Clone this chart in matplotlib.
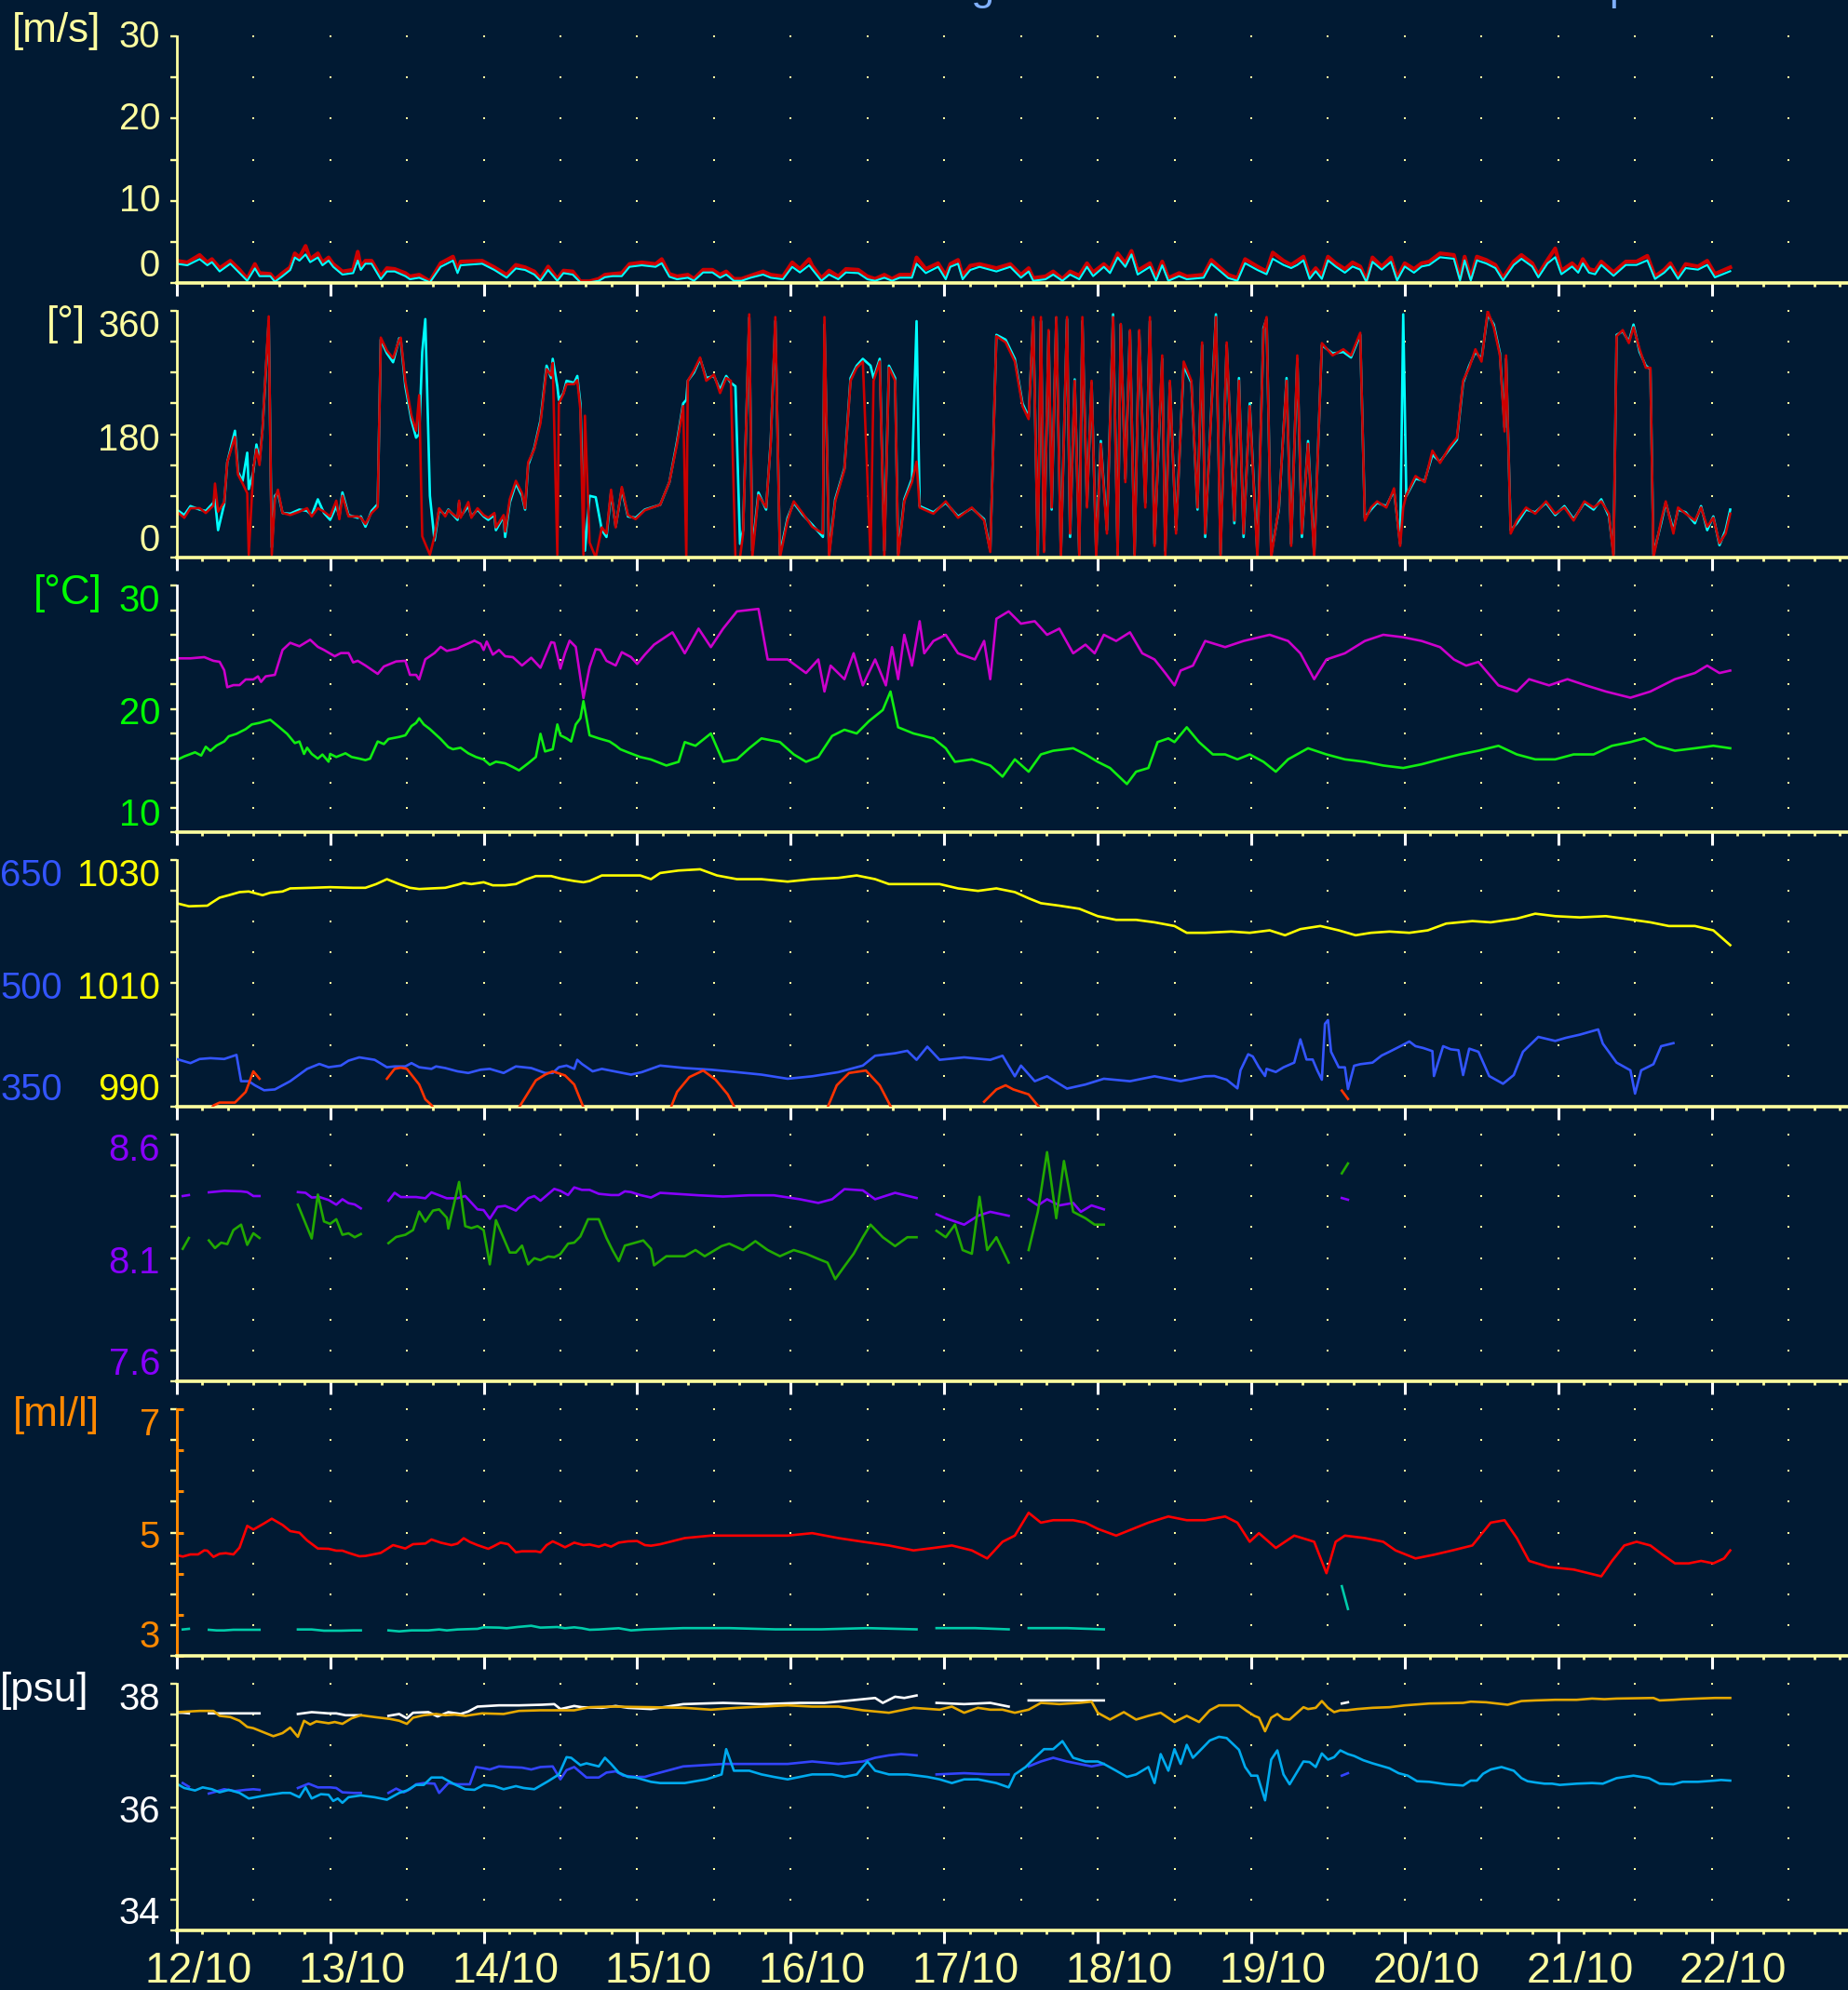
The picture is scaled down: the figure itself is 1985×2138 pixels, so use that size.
import numpy as np
import matplotlib
matplotlib.use("Agg")
import matplotlib.pyplot as plt
from matplotlib.ticker import NullLocator
from matplotlib.transforms import ScaledTranslation

nan = float("nan")

# ---------------------------------------------------------------- data
# time is expressed in days since 12/10 00:00
day_labels = ["12/10", "13/10", "14/10", "15/10", "16/10", "17/10",
              "18/10", "19/10", "20/10", "21/10", "22/10"]

title_text = "Monitoring Station \u2014 Meteo & Sea Surface parameters"

# wind speed [m/s] and gust
wind_t = [0.00, 0.07, 0.15, 0.20, 0.23, 0.28, 0.35, 0.41, 0.46, 0.51,
          0.54, 0.61, 0.64, 0.69, 0.74, 0.77, 0.80, 0.84, 0.87, 0.92,
          0.95, 0.99, 1.02, 1.08, 1.15, 1.18, 1.20, 1.23, 1.27, 1.33,
          1.37, 1.42, 1.49, 1.52, 1.58, 1.65, 1.72, 1.80, 1.83, 1.85,
          1.99, 2.07, 2.15, 2.21, 2.27, 2.33, 2.37, 2.42, 2.48, 2.52,
          2.58, 2.63, 2.69, 2.75, 2.79, 2.84, 2.90, 2.95, 3.03, 3.12,
          3.16, 3.21, 3.26, 3.33, 3.37, 3.43, 3.49, 3.54, 3.58, 3.63,
          3.68, 3.74, 3.82, 3.87, 3.95, 4.01, 4.06, 4.12, 4.14, 4.20,
          4.25, 4.31, 4.36, 4.44, 4.50, 4.55, 4.61, 4.66, 4.71, 4.79,
          4.82, 4.88, 4.96, 5.01, 5.04, 5.09, 5.12, 5.17, 5.23, 5.34,
          5.43, 5.50, 5.55, 5.58, 5.66, 5.71, 5.77, 5.82, 5.88, 5.93,
          5.97, 6.04, 6.08, 6.13, 6.18, 6.22, 6.26, 6.34, 6.38, 6.42,
          6.46, 6.53, 6.58, 6.69, 6.74, 6.80, 6.85, 6.91, 6.96, 7.04,
          7.10, 7.14, 7.21, 7.26, 7.30, 7.34, 7.38, 7.42, 7.46, 7.50,
          7.55, 7.61, 7.66, 7.71, 7.75, 7.79, 7.85, 7.91, 7.95, 8.00,
          8.06, 8.11, 8.16, 8.23, 8.32, 8.36, 8.39, 8.43, 8.47, 8.53,
          8.59, 8.64, 8.71, 8.76, 8.83, 8.87, 8.93, 8.98, 9.02, 9.09,
          9.13, 9.16, 9.20, 9.24, 9.28, 9.36, 9.44, 9.51, 9.58, 9.63,
          9.69, 9.73, 9.78, 9.83, 9.91, 9.97, 10.02, 10.07, 10.12]
wind_speed = [2.34, 2.15, 2.90, 2.15, 2.53, 1.40, 2.34, 1.20, 0.26, 1.77,
              0.83, 0.83, 0.15, 0.83, 1.58, 3.10, 2.72, 3.47, 2.53, 3.10,
              2.15, 2.72, 1.96, 1.02, 1.20, 2.72, 1.58, 2.34, 2.34, 0.45,
              1.40, 1.40, 0.83, 0.45, 0.64, 0.08, 1.96, 2.72, 1.20, 2.15,
              2.34, 1.58, 0.64, 1.77, 1.58, 1.02, 0.26, 1.58, 0.26, 1.20,
              1.02, 0.08, 0.08, 0.26, 0.70, 0.83, 0.83, 1.96, 2.15, 1.96,
              2.40, 0.75, 0.45, 0.64, 0.26, 1.28, 1.28, 0.64, 1.02, 0.26,
              0.26, 0.64, 1.02, 0.64, 0.45, 1.96, 1.28, 2.15, 1.66, 0.26,
              1.02, 0.45, 1.28, 1.20, 0.45, 0.26, 0.64, 0.26, 0.64, 0.64,
              2.34, 1.20, 1.96, 0.45, 1.96, 2.34, 0.45, 1.58, 1.96, 1.40,
              1.96, 0.64, 1.40, 0.26, 0.45, 1.02, 0.26, 1.02, 0.45, 1.96,
              0.83, 1.96, 1.20, 3.10, 1.96, 3.47, 1.02, 1.96, 0.26, 2.15,
              0.26, 0.83, 0.45, 0.64, 2.34, 1.40, 0.60, 0.26, 2.40, 1.58,
              1.06, 2.94, 2.19, 1.81, 2.19, 2.75, 0.49, 1.43, 0.49, 2.75,
              2.00, 1.25, 2.00, 1.62, 0.11, 2.57, 1.62, 2.57, 0.30, 2.00,
              1.25, 2.00, 2.19, 3.13, 2.94, 0.30, 2.75, 0.30, 2.75, 2.38,
              1.81, 0.30, 2.19, 2.94, 2.00, 0.68, 2.38, 3.13, 1.06, 2.00,
              1.25, 2.38, 1.25, 1.06, 2.19, 0.87, 2.19, 2.19, 2.75, 0.49,
              1.25, 2.00, 0.49, 1.81, 1.62, 2.19, 0.68, 1.06, 1.43]
wind_gust = [2.7, 2.5, 3.4, 2.5, 2.9, 1.8, 2.7, 1.6, 0.5, 2.3,
             1.2, 1.1, 0.4, 1.2, 1.9, 3.6, 3.1, 4.5, 2.9, 3.6,
             2.5, 3.1, 2.3, 1.4, 1.6, 3.8, 1.9, 2.7, 2.7, 0.8,
             1.8, 1.7, 1.2, 0.8, 1.0, 0.2, 2.4, 3.2, 1.6, 2.6,
             2.7, 1.9, 1.0, 2.2, 1.9, 1.4, 0.5, 2.0, 0.5, 1.5,
             1.4, 0.2, 0.2, 0.5, 1.0, 1.1, 1.2, 2.3, 2.5, 2.3,
             2.9, 1.1, 0.8, 1.0, 0.5, 1.6, 1.6, 1.0, 1.4, 0.5,
             0.5, 0.9, 1.4, 1.0, 0.8, 2.5, 1.7, 2.9, 2.1, 0.6,
             1.5, 0.8, 1.7, 1.6, 0.8, 0.5, 1.0, 0.5, 1.0, 1.0,
             3.1, 1.7, 2.4, 0.9, 2.3, 2.8, 0.9, 2.1, 2.3, 1.8,
             2.3, 1.0, 1.8, 0.6, 0.8, 1.4, 0.5, 1.4, 0.9, 2.4,
             1.3, 2.3, 1.6, 3.6, 2.4, 3.9, 1.5, 2.4, 0.6, 2.6,
             0.6, 1.2, 0.8, 1.0, 2.8, 1.8, 1.0, 0.6, 2.9, 2.0,
             1.4, 3.7, 2.7, 2.2, 2.7, 3.2, 0.9, 1.8, 0.9, 3.2,
             2.4, 1.7, 2.5, 2.0, 0.3, 3.1, 2.0, 3.1, 0.6, 2.4,
             1.7, 2.4, 2.6, 3.6, 3.4, 0.6, 3.2, 0.6, 3.2, 2.8,
             2.2, 0.6, 2.6, 3.4, 2.4, 1.0, 2.8, 4.2, 1.5, 2.4,
             1.7, 2.9, 1.7, 1.5, 2.6, 1.3, 2.6, 2.6, 3.3, 0.8,
             1.6, 2.4, 0.8, 2.3, 2.0, 2.7, 1.1, 1.5, 1.9]

# wind direction [deg], two sensors
wdir_t = [0.00, 0.05, 0.09, 0.15, 0.19, 0.24, 0.25, 0.27, 0.31, 0.33,
          0.38, 0.40, 0.43, 0.46, 0.47, 0.50, 0.52, 0.54, 0.56, 0.60,
          0.62, 0.64, 0.66, 0.69, 0.74, 0.80, 0.85, 0.88, 0.92, 0.96,
          1.00, 1.04, 1.06, 1.08, 1.12, 1.18, 1.20, 1.23, 1.27, 1.31,
          1.33, 1.37, 1.41, 1.45, 1.46, 1.49, 1.53, 1.56, 1.58, 1.60,
          1.62, 1.65, 1.68, 1.71, 1.75, 1.77, 1.83, 1.84, 1.85, 1.90,
          1.92, 1.96, 2.00, 2.03, 2.07, 2.08, 2.13, 2.14, 2.17, 2.21,
          2.25, 2.27, 2.29, 2.33, 2.37, 2.41, 2.44, 2.45, 2.48, 2.49,
          2.52, 2.54, 2.59, 2.61, 2.63, 2.65, 2.66, 2.69, 2.73, 2.77,
          2.80, 2.83, 2.86, 2.90, 2.94, 2.99, 3.05, 3.15, 3.21, 3.26,
          3.30, 3.32, 3.33, 3.37, 3.41, 3.45, 3.50, 3.54, 3.58, 3.61,
          3.64, 3.67, 3.69, 3.73, 3.75, 3.79, 3.84, 3.87, 3.90, 3.93,
          3.98, 4.02, 4.08, 4.14, 4.21, 4.22, 4.25, 4.29, 4.35, 4.39,
          4.43, 4.47, 4.52, 4.54, 4.58, 4.61, 4.64, 4.68, 4.70, 4.74,
          4.79, 4.82, 4.84, 4.93, 5.01, 5.09, 5.18, 5.26, 5.30, 5.34,
          5.40, 5.46, 5.51, 5.55, 5.58, 5.61, 5.63, 5.65, 5.68, 5.70,
          5.73, 5.76, 5.80, 5.82, 5.85, 5.88, 5.90, 5.93, 5.96, 5.99,
          6.02, 6.06, 6.10, 6.13, 6.15, 6.18, 6.21, 6.24, 6.27, 6.31,
          6.34, 6.37, 6.42, 6.44, 6.47, 6.51, 6.56, 6.61, 6.65, 6.68,
          6.70, 6.75, 6.77, 6.80, 6.84, 6.89, 6.92, 6.95, 6.99, 7.04,
          7.08, 7.10, 7.13, 7.18, 7.23, 7.26, 7.30, 7.33, 7.37, 7.41,
          7.46, 7.53, 7.60, 7.65, 7.71, 7.74, 7.78, 7.82, 7.88, 7.93,
          7.97, 7.99, 8.01, 8.07, 8.13, 8.18, 8.23, 8.29, 8.34, 8.38,
          8.42, 8.46, 8.50, 8.54, 8.58, 8.62, 8.65, 8.66, 8.69, 8.73,
          8.79, 8.85, 8.92, 8.98, 9.04, 9.10, 9.17, 9.23, 9.28, 9.33,
          9.36, 9.38, 9.42, 9.46, 9.49, 9.53, 9.57, 9.60, 9.62, 9.67,
          9.70, 9.75, 9.78, 9.83, 9.89, 9.93, 9.97, 10.01, 10.05, 10.09,
          10.12]
wdir_red = [67, 58, 72, 72, 65, 76, 108, 67, 81, 139,
            176, 121, 108, 94, 4, 130, 158, 135, 189, 352,
            4, 85, 99, 65, 62, 67, 72, 60, 72, 67,
            60, 83, 56, 90, 60, 60, 58, 49, 65, 74,
            321, 302, 291, 318, 321, 257, 207, 185, 237, 31,
            20, 4, 31, 72, 60, 69, 58, 83, 58, 81,
            58, 72, 62, 58, 65, 44, 62, 38, 85, 112,
            94, 72, 139, 158, 196, 275, 266, 284, 4, 225,
            239, 253, 253, 259, 216, 4, 207, 22, 0, 44,
            35, 99, 44, 103, 62, 56, 69, 77, 110, 166,
            221, 0, 258, 273, 292, 258, 267, 240, 262, 258,
            0, 0, 35, 355, 0, 91, 73, 166, 351, 0,
            54, 82, 64, 45, 35, 351, 0, 82, 128, 258,
            277, 286, 0, 258, 286, 0, 277, 258, 0, 82,
            110, 140, 73, 64, 82, 58, 73, 54, 8, 323,
            314, 286, 221, 202, 351, 0, 351, 8, 332, 73,
            351, 0, 351, 35, 258, 0, 351, 73, 258, 0,
            166, 35, 351, 0, 341, 110, 332, 0, 332, 73,
            351, 17, 295, 0, 258, 35, 286, 258, 73, 314,
            35, 258, 351, 0, 314, 54, 258, 35, 221, 0,
            332, 351, 0, 73, 258, 17, 295, 35, 166, 0,
            313, 295, 304, 295, 328, 54, 73, 82, 73, 101,
            17, 73, 91, 119, 110, 156, 138, 161, 175, 258,
            277, 304, 286, 360, 336, 295, 184, 295, 35, 54,
            73, 64, 82, 64, 73, 54, 82, 73, 82, 64,
            0, 323, 332, 313, 336, 304, 277, 277, 0, 54,
            82, 35, 73, 64, 54, 73, 45, 58, 21, 35,
            64]
wdir_cyan = [70, 62, 75, 70, 68, 80, 85, 40, 78, 139,
             185, 125, 112, 153, 100, 125, 165, 140, 189, 345,
             15, 90, 95, 65, 64, 70, 68, 62, 85, 65,
             55, 75, 60, 95, 62, 58, 60, 45, 68, 78,
             318, 298, 285, 320, 318, 250, 200, 175, 180, 300,
             348, 90, 25, 70, 62, 70, 55, 80, 60, 75,
             60, 70, 60, 55, 62, 40, 60, 30, 80, 108,
             90, 70, 135, 160, 200, 280, 262, 290, 250, 230,
             240, 258, 255, 265, 225, 60, 10, 90, 88, 40,
             30, 95, 45, 100, 60, 58, 70, 77, 110, 170,
             225, 230, 258, 270, 290, 262, 265, 245, 265, 255,
             250, 20, 40, 350, 10, 95, 70, 170, 345, 5,
             58, 80, 62, 48, 30, 340, 5, 85, 130, 262,
             280, 290, 280, 262, 290, 10, 280, 262, 5, 85,
             115, 345, 75, 66, 80, 60, 72, 56, 10, 325,
             318, 290, 225, 205, 348, 5, 345, 10, 330, 70,
             350, 5, 348, 30, 260, 5, 345, 75, 255, 8,
             170, 40, 355, 5, 340, 115, 330, 5, 330, 80,
             345, 20, 290, 10, 255, 40, 280, 255, 70, 310,
             30, 262, 355, 5, 310, 50, 262, 30, 225, 5,
             335, 348, 5, 70, 262, 20, 290, 30, 170, 5,
             310, 298, 300, 292, 325, 58, 70, 80, 75, 98,
             20, 355, 90, 115, 112, 150, 140, 158, 172, 255,
             280, 300, 290, 355, 340, 298, 190, 290, 40, 50,
             70, 66, 80, 62, 75, 56, 80, 70, 85, 60,
             5, 325, 330, 315, 340, 300, 280, 275, 5, 50,
             80, 40, 70, 66, 50, 75, 40, 60, 18, 40,
             70]

# temperatures [degC]: air (magenta) and sea (green)
tair_t = [0.00, 0.09, 0.18, 0.24, 0.28, 0.31, 0.33, 0.37, 0.41, 0.45,
          0.50, 0.53, 0.55, 0.58, 0.64, 0.69, 0.74, 0.80, 0.87, 0.92,
          0.96, 1.03, 1.07, 1.12, 1.15, 1.18, 1.23, 1.31, 1.35, 1.43,
          1.49, 1.52, 1.56, 1.58, 1.62, 1.68, 1.72, 1.76, 1.83, 1.85,
          1.94, 1.98, 2.00, 2.02, 2.06, 2.10, 2.14, 2.19, 2.25, 2.31,
          2.37, 2.44, 2.46, 2.50, 2.53, 2.56, 2.60, 2.65, 2.69, 2.73,
          2.76, 2.80, 2.86, 2.90, 2.96, 3.00, 3.05,
          3.11, 3.23, 3.31, 3.40, 3.48, 3.56, 3.65, 3.79, 3.85, 3.98,
          4.10, 4.18, 4.22, 4.26, 4.35, 4.41, 4.47, 4.55, 4.62, 4.66,
          4.70, 4.74, 4.79, 4.84, 4.87, 4.93, 5.01, 5.09, 5.20, 5.26,
          5.30, 5.34, 5.42, 5.50, 5.59, 5.67, 5.75, 5.84, 5.92, 5.98,
          6.04, 6.12, 6.21, 6.29, 6.37, 6.44, 6.50, 6.54, 6.62, 6.70,
          6.83, 6.95, 7.12, 7.24, 7.32, 7.41, 7.49, 7.61, 7.74, 7.86,
          7.99, 8.11, 8.23, 8.32, 8.40, 8.48, 8.61, 8.73, 8.81, 8.94,
          9.06, 9.18, 9.31, 9.47, 9.60, 9.68, 9.76, 9.89, 9.97, 10.05,
          10.12]
tair_v = [24.09, 24.09, 24.19, 23.89, 23.81, 23.13, 21.75, 21.92, 21.92, 22.38,
          22.38, 22.63, 22.18, 22.63, 22.75, 24.77, 25.35, 25.07, 25.60, 25.02,
          24.77, 24.26, 24.52, 24.52, 23.76, 23.89, 23.51, 22.83, 23.43, 23.84,
          23.89, 22.75, 22.75, 22.38, 24.01, 24.52, 25.02, 24.69, 24.89, 25.02,
          25.52, 25.27, 24.77, 25.45, 24.39, 24.77, 24.26, 24.19, 23.51, 24.14,
          23.33, 25.40, 25.35, 23.26, 24.52, 25.52, 25.02, 20.87, 23.38, 24.84,
          24.77, 23.89, 23.51, 24.59, 24.19, 23.64, 24.39,
          25.2, 26.2, 24.5, 26.5, 25.0, 26.5, 27.9, 28.1, 24.0, 24.0,
          22.9, 24.0, 21.4, 23.5, 22.4, 24.5, 21.9, 24.0, 21.9, 25.0,
          22.4, 26.0, 23.5, 27.1, 24.5, 25.5, 26.0, 24.5, 24.0, 25.5,
          22.4, 27.3, 27.9, 26.9, 27.1, 26.0, 26.5, 24.5, 25.2, 24.5,
          26.0, 25.5, 26.2, 24.5, 24.0, 22.9, 21.9, 23.1, 23.5, 25.5,
          25.0, 25.5, 26.0, 25.5, 24.5, 22.4, 24.0, 24.5, 25.5, 26.0,
          25.8, 25.5, 25.0, 24.0, 23.5, 23.8, 21.9, 21.4, 22.4, 21.9,
          22.4, 21.9, 21.4, 20.9, 21.4, 21.9, 22.4, 22.9, 23.5, 22.9,
          23.1]
tsea_t = [0.00, 0.05, 0.12, 0.16, 0.19, 0.22, 0.26, 0.31, 0.34, 0.39,
          0.45, 0.49, 0.54, 0.61, 0.66, 0.72, 0.77, 0.80, 0.83, 0.85,
          0.88, 0.92, 0.95, 0.99, 1.00, 1.04, 1.10, 1.14, 1.19, 1.23,
          1.26, 1.31, 1.35, 1.38, 1.45, 1.49, 1.53, 1.56, 1.58, 1.61,
          1.65, 1.72, 1.77, 1.80, 1.85, 1.90, 1.95, 2.00, 2.04, 2.08,
          2.14, 2.19, 2.23, 2.29, 2.34, 2.37, 2.40, 2.45, 2.48, 2.50,
          2.54, 2.57, 2.60, 2.63, 2.65, 2.69, 2.75, 2.82, 2.86, 2.89,
          2.94, 3.02, 3.09,
          3.19, 3.27, 3.31, 3.38, 3.48, 3.56, 3.65, 3.73, 3.81, 3.93,
          4.02, 4.10, 4.18, 4.27, 4.35, 4.43, 4.51, 4.60, 4.65, 4.70,
          4.80, 4.93, 5.01, 5.07, 5.18, 5.30, 5.38, 5.46, 5.55, 5.63,
          5.71, 5.84, 5.92, 6.00, 6.08, 6.19, 6.25, 6.33, 6.39, 6.46,
          6.50, 6.58, 6.66, 6.75, 6.83, 6.91, 6.99, 7.08, 7.16, 7.24,
          7.37, 7.49, 7.61, 7.74, 7.86, 7.99, 8.11, 8.23, 8.36, 8.48,
          8.61, 8.73, 8.85, 8.98, 9.10, 9.23, 9.35, 9.47, 9.56, 9.64,
          9.76, 9.89, 10.01, 10.12]
tsea_v = [15.84, 16.14, 16.47, 16.21, 16.92, 16.59, 17.02, 17.35, 17.77, 17.97,
          18.35, 18.73, 18.86, 19.11, 18.60, 17.97, 17.22, 17.35, 16.34, 16.84,
          16.34, 15.96, 16.29, 15.71, 16.34, 16.09, 16.39, 16.09, 15.96, 15.84,
          15.96, 17.35, 17.14, 17.55, 17.72, 17.85, 18.60, 18.86, 19.23, 18.73,
          18.35, 17.55, 16.89, 16.72, 16.84, 16.39, 16.09, 15.89, 15.46, 15.71,
          15.58, 15.28, 15.01, 15.58, 16.09, 17.97, 16.54, 16.72, 18.73, 17.85,
          17.60, 17.35, 18.73, 19.23, 20.62, 17.85, 17.60, 17.35, 17.02, 16.72,
          16.47, 16.09, 15.89,
          15.4, 15.7, 17.3, 17.0, 18.0, 15.7, 15.9, 16.8, 17.6, 17.3,
          16.3, 15.7, 16.1, 17.8, 18.3, 18.0, 19.0, 19.9, 21.4, 18.5,
          18.0, 17.6, 16.8, 15.7, 15.9, 15.4, 14.5, 15.9, 14.9, 16.3,
          16.6, 16.8, 16.3, 15.7, 15.2, 13.9, 14.9, 15.2, 17.3, 17.6,
          17.3, 18.5, 17.3, 16.3, 16.3, 15.9, 16.3, 15.7, 14.9, 15.9,
          16.8, 16.3, 15.9, 15.7, 15.4, 15.2, 15.5, 15.9, 16.3, 16.6,
          17.0, 16.3, 15.9, 15.9, 16.3, 16.3, 17.0, 17.3, 17.6, 17.0,
          16.6, 16.8, 17.0, 16.8]

# atmospheric pressure [hPa]
pres_t = [0.00, 0.08, 0.20, 0.23, 0.28, 0.34, 0.41, 0.47, 0.56, 0.61,
          0.69, 0.74, 0.88, 1.00, 1.15, 1.23, 1.30, 1.37, 1.45, 1.52,
          1.58, 1.66, 1.75, 1.83, 1.87, 1.92, 2.00, 2.06, 2.14, 2.21,
          2.27, 2.34, 2.44, 2.50, 2.59, 2.65, 2.69, 2.77, 2.86, 2.94,
          3.02, 3.09,
          3.15, 3.27, 3.41, 3.52, 3.65, 3.81, 3.98, 4.14, 4.31, 4.43,
          4.55, 4.64, 4.80, 4.97, 5.09, 5.22, 5.34, 5.46, 5.55, 5.63,
          5.75, 5.88, 6.00, 6.12, 6.25, 6.37, 6.50, 6.58, 6.70, 6.87,
          6.99, 7.12, 7.22, 7.32, 7.45, 7.57, 7.68, 7.78, 7.90, 8.03,
          8.15, 8.27, 8.44, 8.56, 8.73, 8.85, 8.98, 9.14, 9.31, 9.43,
          9.60, 9.72, 9.89, 10.01, 10.12]
pres_v = [1023.0, 1022.5, 1022.6, 1023.1, 1023.9, 1024.3, 1024.8, 1024.9, 1024.3, 1024.7,
          1024.9, 1025.4, 1025.5, 1025.6, 1025.5, 1025.5, 1026.1, 1026.9, 1026.1, 1025.5,
          1025.3, 1025.4, 1025.5, 1026.0, 1026.3, 1026.1, 1026.4, 1025.9, 1025.9, 1026.1,
          1026.8, 1027.4, 1027.4, 1027.0, 1026.6, 1026.4, 1026.6, 1027.5, 1027.5, 1027.5,
          1027.5, 1026.9,
          1027.9, 1028.3, 1028.5, 1027.5, 1026.9, 1026.9, 1026.5, 1026.9, 1027.1, 1027.5,
          1026.9, 1026.1, 1026.1, 1026.1, 1025.4, 1025.0, 1025.4, 1024.8, 1023.8, 1023.0,
          1022.6, 1022.1, 1020.9, 1020.3, 1020.3, 1019.9, 1019.3, 1018.2, 1018.2, 1018.4,
          1018.2, 1018.6, 1017.8, 1018.8, 1019.3, 1018.6, 1017.8, 1018.2, 1018.4, 1018.2,
          1018.6, 1019.7, 1020.1, 1019.9, 1020.5, 1021.3, 1020.9, 1020.7, 1020.9, 1020.5,
          1019.9, 1019.3, 1019.3, 1018.6, 1016.2]

# second quantity of the pressure panel (blue, outer scale)
blue_t = [0.00, 0.09, 0.15, 0.22, 0.31, 0.39, 0.42, 0.47, 0.51, 0.57,
          0.64, 0.74, 0.85, 0.93, 0.99, 1.07, 1.12, 1.19, 1.29, 1.37,
          1.42, 1.49, 1.53, 1.58, 1.66, 1.69, 1.75, 1.83, 1.90, 1.98,
          2.04, 2.13, 2.21, 2.31, 2.40, 2.45, 2.49, 2.54, 2.59, 2.61,
          2.64, 2.71, 2.77, 2.88, 2.96, 3.03, 3.09,
          3.15, 3.31, 3.48, 3.65, 3.81, 3.98, 4.14, 4.31, 4.47, 4.55,
          4.68, 4.76, 4.82, 4.89, 4.97, 5.13, 5.30, 5.38, 5.46, 5.50,
          5.59, 5.67, 5.80, 5.92, 6.04, 6.21, 6.37, 6.54, 6.70,
          6.76, 6.84, 6.91, 6.93, 6.98, 7.01, 7.05, 7.09, 7.10, 7.16,
          7.21, 7.28, 7.32, 7.36, 7.40, 7.43, 7.46, 7.48, 7.50, 7.52,
          7.57, 7.61, 7.63, 7.67, 7.71, 7.79, 7.85, 7.90, 7.98, 8.03,
          8.07, 8.12, 8.18, 8.19, 8.25, 8.30, 8.35, 8.38, 8.42, 8.48,
          8.55, 8.64, 8.71, 8.77, 8.87, 8.98, 9.05, 9.14, 9.26, 9.29,
          9.38, 9.47, 9.50, 9.54, 9.62, 9.67, 9.75]
blue_v = [408, 403, 408, 409, 408, 413, 381, 381, 376, 370,
          371, 381, 396, 402, 398, 400, 406, 410, 407, 398,
          399, 399, 403, 398, 396, 399, 397, 393, 391, 395,
          396, 391, 399, 397, 391, 391, 398, 400, 396, 407,
          402, 393, 396, 392, 389, 392, 396,
          400, 397, 395, 392, 389, 384, 387, 392, 400, 412,
          415, 418, 407, 423, 407, 410, 407, 412, 387, 400,
          381, 387, 372, 377, 384, 381, 387, 381, 387,
          387.3, 382.8, 372.3, 394.2, 413.8, 411.1, 397.9, 387.3, 396.0, 392.2,
          397.9, 403.6, 431.9, 407.4, 407.4, 394.2, 382.8, 450.8, 455.3, 416.8,
          397.9, 397.9, 371.5, 399.8, 401.7, 403.6, 412.3, 416.8, 424.4, 429.3,
          423.6, 421.4, 417.6, 387.3, 423.6, 419.8, 418.7, 388.5, 420.6, 416.8,
          387.3, 377.9, 388.5, 416.8, 434.9, 430.0, 433.8, 437.6, 444.0, 426.8,
          403.6, 394.2, 365.9, 394.2, 401.7, 423.6, 427.3]

# daytime quantity of the pressure panel (red, on the blue scale)
rad_t = [0.20, 0.24, 0.28, 0.38, 0.45, 0.50, 0.54, 0.90,
         1.37, 1.42, 1.46, 1.50, 1.58, 1.62, 1.66, 1.70, 2.00,
         2.20, 2.27, 2.34, 2.40, 2.45, 2.53, 2.59, 2.67, 3.00,
         3.20, 3.26, 3.34, 3.43, 3.51, 3.59, 3.66, 4.00,
         4.22, 4.30, 4.38, 4.49, 4.58, 4.68, 5.00,
         5.26, 5.34, 5.40, 5.45, 5.55, 5.66, 6.50,
         7.59, 7.63]
rad_v = [340, 351.5, 355, 355, 368, 393, 384, nan,
         384, 396, 397.5, 396, 377, 359, 352, 340, nan,
         340, 361, 382, 389, 393, 388, 377, 340, nan,
         340, 368, 386, 394, 383, 365, 340, nan,
         340, 376, 391, 394, 376, 340, nan,
         356, 371, 376, 371, 365, 340, nan,
         369.6, 359.4]

# pH (purple) and second probe (green)
ph_t = [0.04, 0.08, 0.15,
        0.21, 0.31, 0.42, 0.46, 0.50, 0.54, 0.65,
        0.79, 0.84, 0.88, 0.93, 0.99, 1.04, 1.08, 1.12, 1.16, 1.20, 1.30,
        1.38, 1.42, 1.46, 1.56, 1.62, 1.66, 1.76, 1.83, 1.88, 1.96,
        2.00, 2.04, 2.09, 2.14, 2.21, 2.29, 2.33, 2.37, 2.46, 2.50,
        2.55, 2.59, 2.64, 2.69, 2.75, 2.83, 2.88, 2.92, 2.96, 3.02,
        3.09, 3.15, 3.40, 3.56, 3.73, 3.89, 4.06, 4.18, 4.27, 4.35,
        4.47, 4.55, 4.68, 4.82, 4.90,
        4.95, 5.01, 5.13, 5.22, 5.30, 5.42, 5.50,
        5.55, 5.61, 5.67, 5.75, 5.84, 5.89, 5.96, 6.04, 7.00,
        7.59, 7.63]
ph_v = [8.351, 8.355, nan,
        8.366, 8.372, 8.370, 8.367, 8.351, 8.351, nan,
        8.367, 8.364, 8.345, 8.347, 8.335, 8.316, 8.338, 8.322, 8.317, 8.301, nan,
        8.332, 8.364, 8.347, 8.347, 8.342, 8.366, 8.342, 8.342, 8.351, 8.297,
        8.294, 8.259, 8.307, 8.311, 8.292, 8.342, 8.351, 8.332, 8.380, 8.372,
        8.355, 8.386, 8.376, 8.376, 8.360, 8.355, 8.355, 8.370, 8.367, 8.355,
        8.345, 8.364, 8.354, 8.349, 8.354, 8.354, 8.338, 8.323, 8.338, 8.379,
        8.374, 8.338, 8.364, 8.343, nan,
        8.277, 8.261, 8.235, 8.271, 8.287, 8.271, nan,
        8.338, 8.313, 8.338, 8.313, 8.323, 8.287, 8.313, 8.297, nan,
        8.343, 8.336]
ph2_t = [0.04, 0.08, 0.15,
         0.21, 0.25, 0.29, 0.33, 0.37, 0.42, 0.46, 0.50, 0.54, 0.65,
         0.79, 0.88, 0.92, 0.96, 1.00, 1.04, 1.08, 1.12, 1.16, 1.20, 1.30,
         1.38, 1.43, 1.49, 1.54, 1.58, 1.62, 1.67, 1.71, 1.76, 1.77,
         1.84, 1.88, 1.92, 1.96, 2.00, 2.04, 2.08, 2.17, 2.21, 2.25,
         2.29, 2.33, 2.37, 2.42, 2.46, 2.50, 2.55, 2.59, 2.63, 2.68,
         2.75, 2.80, 2.84, 2.88, 2.92, 3.04, 3.09,
         3.11, 3.19, 3.31, 3.38, 3.44, 3.55, 3.60, 3.69, 3.77, 3.85,
         3.93, 4.02, 4.10, 4.18, 4.24, 4.29, 4.35, 4.41, 4.47, 4.52,
         4.60, 4.68, 4.76, 4.82, 4.90,
         4.95, 5.01, 5.07, 5.12, 5.18, 5.23, 5.28, 5.34, 5.42, 5.50,
         5.55, 5.61, 5.67, 5.73, 5.78, 5.84, 5.92, 5.98, 6.04, 7.00,
         7.59, 7.63]
ph2_v = [8.137, 8.181, nan,
         8.171, 8.140, 8.162, 8.156, 8.213, 8.235, 8.153, 8.200, 8.181, nan,
         8.316, 8.179, 8.357, 8.248, 8.238, 8.257, 8.194, 8.200, 8.184, 8.197, nan,
         8.160, 8.185, 8.194, 8.213, 8.288, 8.247, 8.292, 8.297, 8.263, 8.219,
         8.408, 8.229, 8.221, 8.229, 8.213, 8.074, 8.253, 8.122, 8.122, 8.150,
         8.074, 8.099, 8.091, 8.106, 8.103, 8.116, 8.158, 8.162, 8.187, 8.257,
         8.257, 8.181, 8.131, 8.087, 8.150, 8.171, 8.137,
         8.070, 8.107, 8.107, 8.132, 8.107, 8.148, 8.158, 8.132, 8.168, 8.132,
         8.107, 8.132, 8.117, 8.096, 8.081, 8.014, 8.066, 8.117, 8.184, 8.235,
         8.184, 8.148, 8.184, 8.184, nan,
         8.210, 8.184, 8.235, 8.132, 8.117, 8.348, 8.132, 8.184, 8.081, nan,
         8.132, 8.287, 8.529, 8.261, 8.493, 8.287, 8.261, 8.235, 8.235, nan,
         8.443, 8.483]

# dissolved oxygen [ml/l]
o2_t = [0.00, 0.04, 0.09, 0.14, 0.18, 0.20, 0.24, 0.28, 0.32, 0.37,
        0.41, 0.46, 0.50, 0.57, 0.62, 0.69, 0.74, 0.80, 0.85, 0.92,
        0.99, 1.04, 1.08, 1.12, 1.19, 1.23, 1.33, 1.41, 1.49, 1.54,
        1.62, 1.66, 1.72, 1.79, 1.83, 1.87, 1.91, 1.96, 2.03, 2.06,
        2.11, 2.16, 2.21, 2.25, 2.34, 2.37, 2.41, 2.45, 2.49, 2.53,
        2.59, 2.65, 2.69, 2.75, 2.79, 2.83, 2.88, 2.94, 3.00, 3.05,
        3.09,
        3.15, 3.31, 3.48, 3.65, 3.81, 3.98, 4.14, 4.31, 4.47, 4.64,
        4.80, 4.93, 5.05, 5.18, 5.28, 5.38, 5.46, 5.55, 5.63, 5.71,
        5.84, 5.92, 6.00, 6.12, 6.23, 6.33, 6.46, 6.58, 6.70, 6.83,
        6.91, 6.99, 7.05, 7.16, 7.28, 7.41, 7.49, 7.55, 7.61, 7.74,
        7.86, 7.94, 8.07, 8.19, 8.31, 8.44, 8.56, 8.65, 8.73, 8.81,
        8.94, 9.10, 9.28, 9.35, 9.43, 9.51, 9.60, 9.68, 9.76, 9.85,
        9.93, 10.01, 10.08, 10.12]
o2_v = [4.635, 4.610, 4.645, 4.645, 4.711, 4.706, 4.605, 4.655, 4.665, 4.645,
        4.756, 5.108, 5.048, 5.148, 5.224, 5.123, 5.023, 4.997, 4.872, 4.741,
        4.736, 4.706, 4.706, 4.670, 4.615, 4.620, 4.670, 4.796, 4.741, 4.811,
        4.821, 4.887, 4.836, 4.796, 4.821, 4.907, 4.847, 4.796, 4.736, 4.771,
        4.836, 4.811, 4.680, 4.696, 4.696, 4.680, 4.796, 4.857, 4.811, 4.761,
        4.836, 4.796, 4.806, 4.771, 4.806, 4.771, 4.836, 4.857, 4.862, 4.796,
        4.786,
        4.81, 4.91, 4.95, 4.95, 4.95, 4.95, 4.99, 4.91, 4.85, 4.79,
        4.71, 4.75, 4.79, 4.71, 4.58, 4.85, 4.95, 5.32, 5.16, 5.20,
        5.20, 5.16, 5.06, 4.95, 5.06, 5.16, 5.26, 5.20, 5.20, 5.26,
        5.16, 4.85, 4.99, 4.75, 4.95, 4.85, 4.34, 4.85, 4.95, 4.91,
        4.85, 4.71, 4.58, 4.64, 4.71, 4.79, 5.16, 5.20, 4.91, 4.54,
        4.44, 4.40, 4.29, 4.54, 4.79, 4.85, 4.79, 4.64, 4.50, 4.50,
        4.54, 4.50, 4.58, 4.71]
o2b_t = [0.04, 0.08, 0.15,
         0.21, 0.26, 0.31, 0.37, 0.45, 0.54, 0.65,
         0.79, 0.88, 0.96, 1.07, 1.15, 1.20, 1.30,
         1.38, 1.45, 1.53, 1.64, 1.71, 1.76, 1.83, 1.96, 2.00, 2.10,
         2.15, 2.22, 2.31, 2.37, 2.48, 2.53, 2.59, 2.64, 2.69, 2.75,
         2.88, 2.96, 3.05, 3.30, 3.60, 3.90, 4.20, 4.50, 4.82, 4.90,
         4.95, 5.20, 5.42, 5.50,
         5.55, 5.80, 6.04, 7.00,
         7.59, 7.63]
o2b_v = [3.428, 3.438, nan,
         3.423, 3.413, 3.413, 3.423, 3.423, 3.423, nan,
         3.428, 3.428, 3.408, 3.408, 3.413, 3.413, nan,
         3.413, 3.397, 3.413, 3.413, 3.428, 3.413, 3.428, 3.438, 3.463, 3.458,
         3.448, 3.468, 3.488, 3.458, 3.468, 3.448, 3.463, 3.448, 3.423, 3.428,
         3.448, 3.413, 3.428, 3.450, 3.450, 3.430, 3.430, 3.450, 3.430, nan,
         3.450, 3.450, 3.430, nan,
         3.450, 3.450, 3.430, nan,
         4.13, 3.76]

# salinity [psu]
sal_or_t = [0.00, 0.15, 0.24, 0.28, 0.35, 0.41, 0.46, 0.50, 0.57, 0.63,
            0.69, 0.74, 0.79, 0.83, 0.87, 0.91, 0.99, 1.03, 1.08, 1.14,
            1.20, 1.29, 1.39, 1.45, 1.50, 1.54, 1.61, 1.69, 1.75, 1.81,
            1.88, 1.99, 2.13, 2.23, 2.37, 2.50, 2.59, 2.69, 2.83, 3.09,
            3.31, 3.48, 3.65, 3.81, 3.98, 4.14, 4.31, 4.47, 4.64, 4.80,
            4.97, 5.05, 5.13, 5.22, 5.30, 5.38, 5.46, 5.55, 5.63, 5.75,
            5.88, 5.96, 6.00, 6.08, 6.17, 6.25, 6.33, 6.41, 6.50, 6.58,
            6.66,
            6.73, 6.79, 6.92, 6.97, 7.02, 7.05, 7.09, 7.13, 7.17, 7.21,
            7.25, 7.34, 7.37, 7.42, 7.46, 7.50, 7.54, 7.58, 7.62, 7.69,
            7.79, 7.90, 8.00, 8.16, 8.38, 8.43, 8.53, 8.67, 8.76, 8.85,
            8.98, 9.12, 9.22, 9.30, 9.38, 9.62, 9.66, 9.75, 9.81, 9.91,
            10.02, 10.12]
sal_or_v = [37.54, 37.56, 37.56, 37.48, 37.46, 37.40, 37.30, 37.28, 37.21, 37.15,
            37.20, 37.29, 37.14, 37.40, 37.34, 37.39, 37.36, 37.38, 37.35, 37.44,
            37.49, 37.46, 37.43, 37.40, 37.35, 37.45, 37.49, 37.51, 37.49, 37.50,
            37.48, 37.52, 37.51, 37.56, 37.57, 37.57, 37.57, 37.62, 37.63, 37.62,
            37.61, 37.58, 37.61, 37.63, 37.65, 37.63, 37.63, 37.57, 37.53, 37.61,
            37.58, 37.63, 37.53, 37.61, 37.58, 37.58, 37.53, 37.58, 37.69, 37.67,
            37.69, 37.71, 37.53, 37.42, 37.54, 37.42, 37.48, 37.53, 37.38, 37.48,
            37.38,
            37.57, 37.65, 37.65, 37.56, 37.48, 37.45, 37.23, 37.45, 37.51, 37.43,
            37.42, 37.62, 37.59, 37.61, 37.72, 37.61, 37.54, 37.57, 37.57, 37.59,
            37.61, 37.62, 37.65, 37.68, 37.69, 37.71, 37.70, 37.66, 37.72, 37.73,
            37.74, 37.74, 37.76, 37.75, 37.76, 37.77, 37.73, 37.74, 37.75, 37.76,
            37.77, 37.77]
sal_lb_t = [0.00, 0.05, 0.12, 0.17, 0.23, 0.28, 0.34, 0.41, 0.47, 0.58,
            0.69, 0.74, 0.80, 0.84, 0.88, 0.94, 0.99, 1.02, 1.05, 1.08,
            1.12, 1.20, 1.29, 1.37, 1.45, 1.50, 1.56, 1.61, 1.66, 1.73,
            1.81, 1.88, 1.94, 2.00, 2.07, 2.13, 2.21, 2.26, 2.33, 2.42,
            2.49, 2.54, 2.57, 2.63, 2.67, 2.75, 2.79, 2.83, 2.88, 2.94,
            2.99, 3.09,
            3.15, 3.31, 3.45, 3.55, 3.58, 3.63, 3.73, 3.81, 3.89, 3.98,
            4.06, 4.14, 4.27, 4.35, 4.43, 4.50, 4.55, 4.64, 4.76, 4.89,
            4.97, 5.05, 5.13, 5.22, 5.34, 5.42, 5.46, 5.53, 5.59, 5.65,
            5.71, 5.77, 5.84, 5.92, 6.00, 6.04, 6.12, 6.19, 6.25, 6.33,
            6.37, 6.41, 6.46, 6.50, 6.54, 6.58, 6.62, 6.66,
            6.73, 6.79, 6.84, 6.92, 6.96, 7.00, 7.04, 7.09, 7.13, 7.17,
            7.21, 7.25, 7.34, 7.38, 7.42, 7.46, 7.50, 7.54, 7.58, 7.63,
            7.67, 7.73, 7.79, 7.90, 7.96, 8.02, 8.08, 8.16, 8.27, 8.38,
            8.43, 8.47, 8.51, 8.56, 8.63, 8.71, 8.76, 8.80, 8.85, 8.91,
            8.96, 9.01, 9.12, 9.22, 9.29, 9.38, 9.49, 9.59, 9.66, 9.75,
            9.81, 9.91, 10.02, 10.06, 10.12]
sal_lb_v = [36.38, 36.31, 36.27, 36.32, 36.29, 36.24, 36.28, 36.23, 36.14, 36.19,
            36.23, 36.23, 36.16, 36.32, 36.14, 36.21, 36.20, 36.10, 36.14, 36.07,
            36.16, 36.19, 36.16, 36.12, 36.23, 36.27, 36.36, 36.36, 36.48, 36.48,
            36.37, 36.29, 36.28, 36.36, 36.34, 36.29, 36.34, 36.31, 36.29, 36.42,
            36.53, 36.81, 36.80, 36.68, 36.71, 36.66, 36.80, 36.70, 36.56, 36.49,
            36.48, 36.41,
            36.39, 36.39, 36.45, 36.53, 36.94, 36.59, 36.59, 36.53, 36.49, 36.45,
            36.49, 36.53, 36.53, 36.49, 36.53, 36.74, 36.59, 36.53, 36.53, 36.49,
            36.45, 36.39, 36.45, 36.45, 36.39, 36.32, 36.53, 36.65, 36.80, 36.94,
            36.94, 37.07, 36.80, 36.74, 36.74, 36.70, 36.59, 36.49, 36.53, 36.65,
            36.39, 36.86, 36.59, 36.94, 36.70, 37.01, 36.80, 36.90,
            37.08, 37.14, 37.12, 36.93, 36.65, 36.51, 36.51, 36.11, 36.77, 36.92,
            36.53, 36.37, 36.74, 36.73, 36.65, 36.87, 36.77, 36.81, 36.92, 36.86,
            36.83, 36.76, 36.71, 36.63, 36.55, 36.51, 36.42, 36.41, 36.37, 36.35,
            36.43, 36.43, 36.54, 36.61, 36.65, 36.59, 36.47, 36.42, 36.40, 36.38,
            36.38, 36.36, 36.38, 36.39, 36.38, 36.47, 36.51, 36.47, 36.38, 36.37,
            36.41, 36.41, 36.43, 36.44, 36.43]
sal_db_t = [0.04, 0.08, 0.15,
            0.21, 0.24, 0.31, 0.38, 0.45, 0.50, 0.54, 0.65,
            0.79, 0.86, 0.92, 1.00, 1.04, 1.08, 1.15, 1.20, 1.30,
            1.38, 1.43, 1.48, 1.52, 1.56, 1.61, 1.68, 1.71, 1.77, 1.83,
            1.91, 1.95, 2.00, 2.04, 2.10, 2.17, 2.25, 2.31, 2.37, 2.45,
            2.50, 2.54, 2.59, 2.67, 2.75, 2.80, 2.86, 2.91, 2.99, 3.05,
            3.09, 3.30, 3.56, 3.81, 3.98, 4.14, 4.31, 4.47, 4.55, 4.64,
            4.72, 4.82, 4.90,
            4.95, 5.13, 5.30, 5.42, 5.50,
            5.55, 5.63, 5.71, 5.80, 5.88, 5.96, 6.04, 7.00,
            7.59, 7.63]
sal_db_v = [36.39, 36.33, nan,
            36.22, 36.24, 36.29, 36.26, 36.28, 36.29, 36.28, nan,
            36.31, 36.38, 36.32, 36.32, 36.31, 36.24, 36.23, 36.23, nan,
            36.23, 36.30, 36.24, 36.29, 36.37, 36.39, 36.38, 36.23, 36.39, 36.37,
            36.37, 36.65, 36.63, 36.61, 36.66, 36.65, 36.64, 36.61, 36.65, 36.66,
            36.45, 36.60, 36.65, 36.48, 36.48, 36.56, 36.58, 36.51, 36.49, 36.49,
            36.52, 36.66, 36.70, 36.70, 36.70, 36.74, 36.70, 36.74, 36.80, 36.84,
            36.86, 36.84, nan,
            36.53, 36.55, 36.53, 36.53, nan,
            36.66, 36.74, 36.80, 36.74, 36.70, 36.66, 36.70, nan,
            36.51, 36.55]
sal_wh_t = [0.00, 0.04, 0.08, 0.15,
            0.21, 0.31, 0.42, 0.54, 0.65,
            0.79, 0.88, 0.99, 1.04, 1.10, 1.20, 1.30,
            1.38, 1.45, 1.50, 1.54, 1.64, 1.70, 1.77, 1.85, 1.90, 1.96,
            2.10, 2.23, 2.38, 2.46, 2.50, 2.59, 2.64, 2.77, 2.86, 2.94,
            3.09, 3.30, 3.56, 3.81, 4.06, 4.22, 4.39, 4.55, 4.60, 4.68,
            4.74, 4.82, 4.90,
            4.95, 5.13, 5.30, 5.42, 5.50,
            5.55, 5.71, 5.88, 6.04, 7.00,
            7.59, 7.63]
sal_wh_v = [37.53, 37.53, 37.52, nan,
            37.52, 37.52, 37.52, 37.52, nan,
            37.51, 37.54, 37.52, 37.52, 37.49, 37.49, nan,
            37.48, 37.51, 37.44, 37.53, 37.54, 37.47, 37.54, 37.51, 37.55, 37.63,
            37.65, 37.65, 37.66, 37.67, 37.59, 37.64, 37.62, 37.61, 37.64, 37.61,
            37.59, 37.67, 37.69, 37.67, 37.69, 37.69, 37.73, 37.77, 37.69, 37.79,
            37.77, 37.81, nan,
            37.69, 37.67, 37.69, 37.63, nan,
            37.73, 37.73, 37.73, 37.73, nan,
            37.68, 37.70]

# ---------------------------------------------------------------- layout / style
W_PX, H_PX, DPI = 1985, 2138, 100
BG = "#011a33"
PALE = "#ffffa0"
ORANGE = "#ff8800"

plt.rcParams["font.family"] = ["Liberation Sans", "DejaVu Sans"]

X0 = 189.7                 # left spine position [px]
DAY_PX = 164.9             # width of one day [px]
X_MAX = (W_PX - X0) / DAY_PX
TOPS = [39, 334, 629, 924, 1219, 1514, 1809]
PANEL_H = 265

YFS_PX = 40                # tick label size [px]
YFS = YFS_PX * 72 / DPI
UFS = 44 * 72 / DPI
XFS = 46 * 72 / DPI

fig = plt.figure(figsize=(W_PX / DPI, H_PX / DPI), dpi=DPI, facecolor=BG)


def new_axes(top, ylim, step, spine_color):
    ax = fig.add_axes([X0 / W_PX, 1 - (top + PANEL_H) / H_PX,
                       1 - X0 / W_PX, PANEL_H / H_PX])
    ax.set_facecolor("none")
    ax.set_xlim(0, X_MAX)
    ax.set_ylim(*ylim)
    ax.spines["top"].set_visible(False)
    ax.spines["right"].set_visible(False)
    ax.spines["bottom"].set_color(PALE)
    ax.spines["bottom"].set_linewidth(2.6)
    ax.spines["left"].set_color(spine_color)
    ax.spines["left"].set_linewidth(2.0)
    ax.spines["bottom"].set_zorder(5)
    ax.spines["left"].set_zorder(5)
    ax.set_xticks(np.arange(0, 11))
    ax.set_xticks(np.arange(0, X_MAX, 1 / 6), minor=True)
    ax.tick_params(axis="x", which="major", direction="out", length=10,
                   width=2.2, color="white", labelbottom=False)
    ax.tick_params(axis="x", which="minor", direction="out", length=3,
                   width=2.0, color=PALE)
    yt = np.linspace(ylim[0], ylim[1], int(round((ylim[1] - ylim[0]) / step)) + 1)
    ax.set_yticks(yt)
    ax.yaxis.set_minor_locator(NullLocator())
    ax.tick_params(axis="y", which="major", direction="out", length=5,
                   width=1.7, color=PALE, labelleft=False)
    gx = np.arange(0.5, X_MAX, 0.5)
    GX, GY = np.meshgrid(gx, yt[1:])
    ax.scatter(GX.ravel(), GY.ravel(), s=4, marker="s", color=PALE,
               linewidths=0, zorder=1, clip_on=False)
    return ax


def value_labels(ax, values, shifts, color, dx=-17.7, tr=None):
    tr = tr if tr is not None else ax.get_yaxis_transform()
    for v, sh in zip(values, shifts):
        txt = ("%g" % v)
        ax.annotate(txt, xy=(0, v), xycoords=tr,
                    xytext=(dx, sh - 0.358 * YFS_PX), textcoords="offset pixels",
                    ha="right", va="baseline", color=color, fontsize=YFS,
                    annotation_clip=False)


def unit_label(x_px, base_px, text, color):
    fig.text(x_px / W_PX, 1 - base_px / H_PX, text, ha="left", va="baseline",
             color=color, fontsize=UFS)


LW = 1.9

# ---- panel 1: wind speed
ax1 = new_axes(TOPS[0], (0, 30), 5, PALE)
ax1.plot(wind_t, wind_gust, color="#cc0000", lw=3.0, zorder=3)
ax1.plot(wind_t, wind_speed, color="#00ffff", lw=1.5, zorder=4)
value_labels(ax1, [30, 20, 10, 0], [2, 3, 3, 21], PALE)
unit_label(13, 45, "[m/s]", PALE)

# ---- panel 2: wind direction
ax2 = new_axes(TOPS[1], (0, 360), 45, PALE)
ax2.plot(wdir_t, wdir_cyan, color="#00ffff", lw=LW, zorder=3)
ax2.plot(wdir_t, wdir_red, color="#cc0000", lw=LW, zorder=4)
value_labels(ax2, [360, 180, 0], [-14, -3, 21], PALE)
unit_label(50, 360, "[\u00b0]", PALE)

# ---- panel 3: temperatures
GREEN = "#00ff00"
ax3 = new_axes(TOPS[2], (10, 30), 2, "white")
ax3.plot(tair_t, tair_v, color="#cc00cc", lw=LW, zorder=3)
ax3.plot(tsea_t, tsea_v, color="#11ee11", lw=LW, zorder=4)
value_labels(ax3, [30, 20, 10], [-14, -2, 21], GREEN)
unit_label(36, 649, "[\u00b0C]", GREEN)

# ---- panel 4: pressure + blue scale
BLUE = "#3355ff"
ax4 = new_axes(TOPS[3], (990, 1030), 5, PALE)
ax4.plot(pres_t, pres_v, color="#ffff00", lw=LW, zorder=3)
ax4b = ax4.twinx()
ax4b.set_ylim(350, 650)
ax4b.set_xlim(0, X_MAX)
ax4b.axis("off")
ax4b.plot(blue_t, blue_v, color=BLUE, lw=LW, zorder=3)
ax4b.plot(rad_t, rad_v, color="#ff3300", lw=LW, zorder=4)
value_labels(ax4, [1030, 1010, 990], [-14, -2, 21], "#ffff00")
value_labels(ax4, [650, 500, 350], [-14, -2, 21], BLUE, dx=-122.7,
             tr=ax4b.get_yaxis_transform())

# ---- panel 5: pH
PURPLE = "#8800ff"
ax5 = new_axes(TOPS[4], (7.6, 8.6), 0.125, "white")
ax5.plot(ph_t, ph_v, color=PURPLE, lw=LW, zorder=3)
ax5.plot(ph2_t, ph2_v, color="#22aa00", lw=LW, zorder=4)
value_labels(ax5, [8.6, 8.1, 7.6], [-14, -2, 21], PURPLE)

# ---- panel 6: dissolved oxygen
ax6 = new_axes(TOPS[5], (3, 7), 0.5, ORANGE)
ax6.plot(o2_t, o2_v, color="#ff0000", lw=LW, zorder=3)
ax6.plot(o2b_t, o2b_v, color="#00ccaa", lw=LW, zorder=3)
sec = ax6.secondary_yaxis("left")
sec.set_yticks(np.linspace(3, 7, 7))
sec.set_yticklabels([])
sec.tick_params(direction="in", length=5, width=2.2, colors=ORANGE)
sec.spines["left"].set_color(ORANGE)
sec.spines["left"].set_linewidth(2.0)
value_labels(ax6, [7, 5, 3], [-14, -2, 23], ORANGE)
unit_label(14, 1532, "[ml/l]", ORANGE)

# ---- panel 7: salinity
ax7 = new_axes(TOPS[6], (34, 38), 0.5, PALE)
ax7.plot(sal_wh_t, sal_wh_v, color="white", lw=LW, zorder=3)
ax7.plot(sal_db_t, sal_db_v, color="#3344ff", lw=LW, zorder=3)
ax7.plot(sal_or_t, sal_or_v, color="#e6a800", lw=LW, zorder=4)
ax7.plot(sal_lb_t, sal_lb_v, color="#00aaee", lw=LW, zorder=4)
value_labels(ax7, [38, 36, 34], [-14, -2, 21], "white")
unit_label(0, 1828, "[psu]", "white")

ax7.set_xticks(np.arange(0, 11), day_labels)
ax7.tick_params(axis="x", which="major", labelbottom=True, labelsize=XFS,
                labelcolor=PALE, pad=6)
shift_right = ScaledTranslation(23 / DPI, 0, fig.dpi_scale_trans)
for lab in ax7.get_xticklabels():
    lab.set_transform(lab.get_transform() + shift_right)

fig.text(859 / W_PX, 1.0, title_text, ha="left", va="baseline",
         color="#80b0ff", fontsize=32.3)

fig.savefig("out.png", dpi=DPI, facecolor=BG)
